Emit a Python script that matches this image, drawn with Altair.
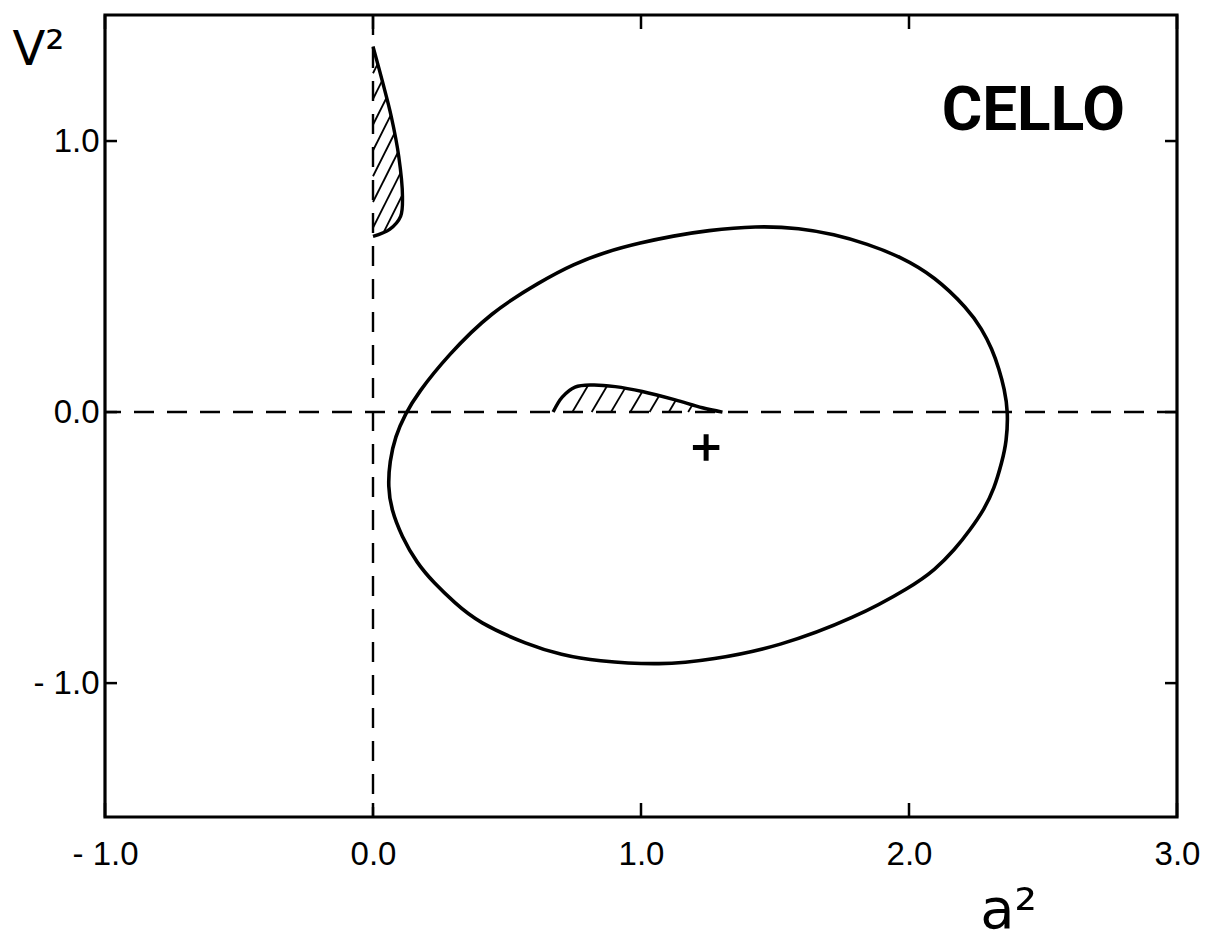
import altair as alt
import pandas as pd
import numpy as np

# ---- data ----
# closed contour (a^2, V^2), counter-clockwise from the top
ell_a = [1.431, 1.244, 1.121, 0.998, 0.871, 0.748, 0.626, 0.440, 0.278, 0.167, 0.120,
         0.083, 0.062, 0.056, 0.068, 0.107, 0.164, 0.228, 0.304, 0.391, 0.579, 0.703,
         0.830, 1.077, 1.264, 1.514, 1.800, 2.008, 2.097, 2.171, 2.230, 2.281, 2.318,
         2.347, 2.364, 2.370, 2.356, 2.336, 2.310, 2.272, 2.221, 2.095, 1.969,
         1.844, 1.719, 1.594]
ell_v = [0.687, 0.670, 0.650, 0.625, 0.592, 0.546, 0.482, 0.369, 0.208, 0.070, -0.008,
         -0.090, -0.182, -0.275, -0.359, -0.459, -0.558, -0.631, -0.703, -0.776, -0.859, -0.896,
         -0.919, -0.934, -0.914, -0.866, -0.759, -0.645, -0.582, -0.507, -0.432, -0.358, -0.283,
         -0.184, -0.110, 0.000, 0.086, 0.159, 0.233, 0.306, 0.380, 0.501, 0.573,
         0.621, 0.656, 0.679]

# upper hatched region (bounded on the left by a^2 = 0)
up_a = [0.000, 0.062, 0.103, 0.110, 0.096, 0.068, 0.037, 0.000]
up_v = [0.648, 0.674, 0.722, 0.796, 0.944, 1.091, 1.213, 1.349]

# lower hatched region (bounded below by V^2 = 0)
lo_a = [0.672, 0.706, 0.754, 0.818, 0.904, 1.005, 1.128, 1.229, 1.304]
lo_v = [0.000, 0.055, 0.092, 0.100, 0.094, 0.076, 0.045, 0.016, 0.000]

# best fit point
best_a = [1.243]
best_v = [-0.131]

x_ticks = [-1.0, 0.0, 1.0, 2.0, 3.0]
y_ticks = [-1.0, 0.0, 1.0]
label_text = ["CELLO"]

X_DOM = [-1.0, 3.0]
Y_DOM = [-1.494, 1.465]
W, H = 1072, 802
FONT = "Liberation Sans, Arial, DejaVu Sans"


def hatch(poly_a, poly_v, slope, starts, along="v"):
    """Clip parallel lines of a given data slope to the closed polygon."""
    pts = list(zip(poly_a, poly_v))
    if pts[0] != pts[-1]:
        pts.append(pts[0])
    segs = []
    d = np.array([1.0, slope])
    for c in starts:
        p0 = np.array([0.0, c]) if along == "v" else np.array([c, 0.0])
        ts = []
        for (a1, v1), (a2, v2) in zip(pts[:-1], pts[1:]):
            e = np.array([a2 - a1, v2 - v1])
            m = np.array([[d[0], -e[0]], [d[1], -e[1]]])
            if abs(np.linalg.det(m)) < 1e-12:
                continue
            t, s = np.linalg.solve(m, np.array([a1, v1]) - p0)
            if 0 <= s < 1:
                ts.append(t)
        ts.sort()
        for i in range(0, len(ts) - 1, 2):
            pa = p0 + ts[i] * d
            pb = p0 + ts[i + 1] * d
            segs.append({"a": pa[0], "v": pa[1], "a2": pb[0], "v2": pb[1]})
    return segs


up_h = hatch(up_a, up_v, 1.97, np.arange(0.30, 1.40, 0.095), along="v")
lo_h = hatch(lo_a, lo_v, 1.68, np.arange(0.60, 1.32, 0.072), along="a")
hatch_df = pd.DataFrame(up_h + lo_h)

ell_df = pd.DataFrame({"a": ell_a, "v": ell_v, "i": range(len(ell_a))})
up_df = pd.DataFrame({"a": up_a, "v": up_v, "i": range(len(up_a))})
lo_df = pd.DataFrame({"a": lo_a, "v": lo_v, "i": range(len(lo_a))})
best_df = pd.DataFrame({"a": best_a, "v": best_v})

xs = alt.Scale(domain=X_DOM, nice=False, zero=False)
ys = alt.Scale(domain=Y_DOM, nice=False, zero=False)

label_expr = "datum.value < 0 ? '- ' + format(-datum.value, '.1f') : format(datum.value, '.1f')"

x_axis = alt.Axis(values=x_ticks, ticks=False, domain=False, grid=False, labelExpr=label_expr,
                  labelFont=FONT, labelFontSize=33, labelColor="black", labelPadding=21,
                  labelOverlap=False, labelFlush=False, labelBound=False,
                  title="a²", titleFont="DejaVu Sans", titleFontSize=56, titleFontWeight="normal",
                  titleColor="black", titleX=903, titleY=93, titleAlign="center",
                  titleBaseline="middle", titleAnchor="start")
y_axis = alt.Axis(values=y_ticks, ticks=False, domain=False, grid=False, labelExpr=label_expr,
                  labelFont=FONT, labelFontSize=33, labelColor="black", labelPadding=6,
                  labelOverlap=False, labelFlush=False, labelBound=False,
                  title="V²", titleFont="DejaVu Sans", titleFontSize=48, titleFontWeight="normal",
                  titleColor="black", titleX=-67, titleY=35, titleAngle=0, titleAlign="center",
                  titleBaseline="middle", titleAnchor="start")


def X(field):
    return alt.X(field, scale=xs, axis=x_axis)


def Y(field):
    return alt.Y(field, scale=ys, axis=y_axis)


ellipse = alt.Chart(ell_df).mark_line(color="black", strokeWidth=3.6,
                                      interpolate="basis-closed").encode(
    x=X("a:Q"), y=Y("v:Q"), order="i:Q")

zero_df = pd.DataFrame({"z": [0.0]})
vdash = alt.Chart(zero_df).mark_rule(color="black", strokeWidth=2.4, strokeDash=[20, 13]).encode(
    x=X("z:Q"))
hdash = alt.Chart(zero_df).mark_rule(color="black", strokeWidth=2.4, strokeDash=[20, 13]).encode(
    y=Y("z:Q"))

hatch_lines = alt.Chart(hatch_df).mark_rule(color="black", strokeWidth=1.8).encode(
    x=X("a:Q"), x2="a2:Q", y=Y("v:Q"), y2="v2:Q")

up_line = alt.Chart(up_df).mark_line(color="black", strokeWidth=3.4, interpolate="catmull-rom").encode(
    x=X("a:Q"), y=Y("v:Q"), order="i:Q")
lo_line = alt.Chart(lo_df).mark_line(color="black", strokeWidth=3.4, interpolate="catmull-rom").encode(
    x=X("a:Q"), y=Y("v:Q"), order="i:Q")

best = alt.Chart(best_df).mark_point(shape="M-1,0L1,0M0,-1L0,1", size=700, filled=False,
                                     color="black", strokeWidth=5, opacity=1).encode(
    x=X("a:Q"), y=Y("v:Q"))

xt_df = pd.DataFrame({"t": x_ticks})
yt_df = pd.DataFrame({"t": y_ticks})
tick_b = alt.Chart(xt_df).mark_rule(color="black", strokeWidth=2.5).encode(
    x=X("t:Q"), y=alt.value(H), y2=alt.value(H - 14))
tick_t = alt.Chart(xt_df).mark_rule(color="black", strokeWidth=2.5).encode(
    x=X("t:Q"), y=alt.value(0), y2=alt.value(14))
tick_l = alt.Chart(yt_df).mark_rule(color="black", strokeWidth=2.5).encode(
    y=Y("t:Q"), x=alt.value(0), x2=alt.value(12))
tick_r = alt.Chart(yt_df).mark_rule(color="black", strokeWidth=2.5).encode(
    y=Y("t:Q"), x=alt.value(W), x2=alt.value(W - 12))

cello = alt.Chart(pd.DataFrame({"t": label_text})).mark_text(
    font="Roboto, DejaVu Sans", fontSize=62, fontWeight="bold", color="black",
    align="right", baseline="alphabetic").encode(
    text="t:N", x=alt.value(W - 52), y=alt.value(115))

chart = alt.layer(
    ellipse, vdash, hdash, hatch_lines, up_line, lo_line, best,
    tick_b, tick_t, tick_l, tick_r, cello
).properties(
    width=W, height=H,
    background="white",
    autosize=alt.AutoSizeParams(type="none"),
    padding={"left": 105, "top": 15, "right": 38, "bottom": 125},
).configure_view(stroke="black", strokeWidth=3.2)

chart.save("out.html", embed_options={"renderer": "svg", "actions": False})
